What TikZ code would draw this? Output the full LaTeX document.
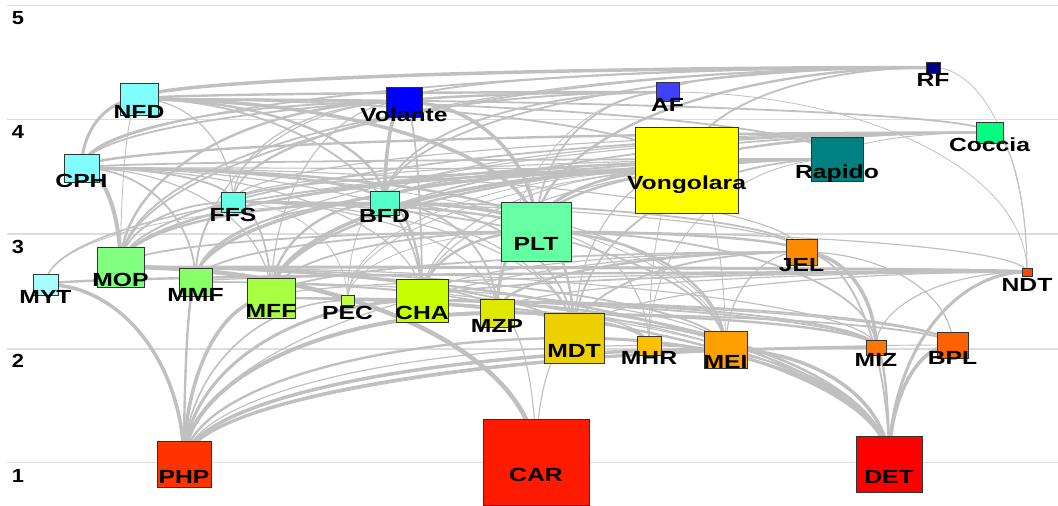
\documentclass[tikz,border=0pt]{standalone}
\usepackage{fontspec}
\usetikzlibrary{calc}
\newfontfamily\labfont{Liberation Sans}[FakeStretch=1.3]
\newfontfamily\numfont{Liberation Sans}[FakeStretch=1.15]
\pgfdeclarelayer{bg}
\pgfsetlayers{bg,main}
\definecolor{edgegray}{HTML}{C0C0C0}
\definecolor{gridgray}{HTML}{DCDCDC}
\tikzset{
  box/.style={rectangle, draw=black!80, line width=0.8pt, inner sep=0pt},
  lab/.style={inner sep=0pt, anchor=base, font=\labfont\bfseries\fontsize{19}{19}\selectfont},
  axnum/.style={inner sep=0pt, anchor=base, font=\numfont\bfseries\fontsize{19}{19}\selectfont},
  edge/.style={draw=edgegray},
  gridline/.style={draw=gridgray, line width=1.4pt}
}
\newcommand\fwnode[6]{%
  \definecolor{c#1}{HTML}{#6}%
  \node[box, fill=c#1, minimum width=#4pt, minimum height=#5pt] (#1) at (#2,#3) {};
  \node[lab] (l#1) at ($(#1.center)+(0,19)$) {#1};}
\newcommand\fwedge[3]{%
  \coordinate (kk) at (#1.center |- #2.center);
  \draw[edge, line width=#3pt] (#1.center) .. controls ($(#1.center)!0.552!(kk)$) and ($(#2.center)!0.552!(kk)$) .. (#2.center);}
\begin{document}
\begin{tikzpicture}[x=1pt,y=-1pt]
\useasboundingbox (0,0) rectangle (1058,506);
% nodes
\fwnode{NFD}{139}{99}{38}{32}{80FFFF}
\fwnode{CPH}{81.5}{168}{35}{28}{80FFFF}
\fwnode{FFS}{233}{202}{24}{20}{66FFE6}
\fwnode{Volante}{404}{102}{36}{30}{0000FF}
\fwnode{AF}{667.5}{92}{23}{19}{4040FF}
\fwnode{RF}{933}{67.5}{14}{11}{000080}
\fwnode{Coccia}{989.5}{132.5}{27}{21}{00FF80}
\fwnode{BFD}{384.5}{203}{29}{24}{55FFC8}
\fwnode{PLT}{536}{231.5}{70}{59}{66FFA3}
\fwnode{MOP}{120.5}{267}{47}{40}{80FF80}
\fwnode{MYT}{45.5}{284.5}{25}{21}{A6FFFF}
\fwnode{MMF}{195.5}{282}{33}{28}{88FF66}
\fwnode{MFF}{271}{298}{48}{40}{A6FF40}
\fwnode{PEC}{347.5}{300.5}{13}{10}{C0FF40}
\fwnode{CHA}{422}{300.5}{52}{43}{C8FF00}
\fwnode{MZP}{497}{313}{34}{28}{E0E800}
\fwnode{MDT}{574}{338}{60}{50}{EED000}
\fwnode{MHR}{649}{345.5}{24}{19}{FFC000}
\fwnode{MEI}{725.5}{349.5}{43}{37}{FFA000}
\fwnode{JEL}{801.5}{252}{31}{26}{FF8C00}
\fwnode{MIZ}{876}{347.5}{20}{15}{FF7700}
\fwnode{BPL}{952.5}{345}{31}{26}{FF6000}
\fwnode{NDT}{1027}{272}{10}{8}{FF4500}
\fwnode{Vongolara}{686.5}{170}{103}{86}{FFFF00}
\fwnode{Rapido}{837}{159}{52}{44}{008080}
\fwnode{PHP}{184}{464}{54}{46}{FF3300}
\fwnode{CAR}{536}{462}{106}{86}{FF1A00}
\fwnode{DET}{889}{464}{66}{56}{FF0000}
% axis numbers
\node[axnum] (n5) at (18,24) {5};
\node[axnum] (n4) at (18,138.5) {4};
\node[axnum] (n3) at (18,253) {3};
\node[axnum] (n2) at (18,367.5) {2};
\node[axnum] (n1) at (18,482) {1};
\begin{pgfonlayer}{bg}
\foreach \yy in {5.5,119.5,234,349,462.7} {\draw[gridline] (7,\yy) -- (1058,\yy);}
\foreach \a/\b/\w in {
 PHP/MYT/3.5, PHP/MMF/2.4, PHP/MFF/3.5, PHP/PEC/1.6, PHP/CHA/3, PHP/MZP/4, PHP/MDT/2.4,
 PHP/MHR/1.2, PHP/MEI/3.5, PHP/MIZ/3, PHP/BPL/0.9, PHP/JEL/1.2,
 CAR/MOP/4.5, CAR/MZP/1.1, CAR/MDT/1.1,
 DET/MEI/3.5, DET/MHR/1.8, DET/MDT/3, DET/MZP/1.8, DET/CHA/2.4, DET/MFF/2.4, DET/MMF/1.2,
 DET/MOP/2.4, DET/PEC/1.1, DET/MIZ/2.4, DET/BPL/3.5, DET/NDT/3, DET/JEL/1.8,
 MEI/PLT/2.4, MEI/BFD/1.2, MEI/FFS/1.8, MEI/CPH/0.9, MEI/Vongolara/0.9, MEI/JEL/1.2, MEI/MOP/1.8, MEI/MMF/1.2,
 MHR/PLT/1.2, MHR/Rapido/0.9, MHR/Vongolara/0.9, MHR/MZP/1.8, MHR/CHA/1.2, MHR/MFF/1.2,
 MIZ/JEL/3.5, MIZ/MZP/2.4, MIZ/CHA/1.8, MIZ/MFF/1.8, MIZ/MOP/1.2, MIZ/PLT/1.8, MIZ/NDT/1.2,
 BPL/MZP/1.8, BPL/CHA/1.8, BPL/MFF/1.2, BPL/PEC/0.9, BPL/JEL/1.2,
 MDT/PLT/2.4, MDT/BFD/1.8, MDT/FFS/1.2, MDT/Vongolara/1.2, MDT/Rapido/1.8, MDT/CPH/1.2,
 MDT/MOP/1.8, MDT/JEL/1.8, MDT/NDT/1.2, MDT/MMF/1.2,
 MZP/PLT/3, MZP/JEL/2.4, MZP/BFD/1.8, MZP/FFS/1.2, MZP/MOP/1.8, MZP/MMF/1.2, MZP/NDT/1.2, MZP/AF/0.8,
 CHA/PLT/2.4, CHA/BFD/2.4, CHA/Volante/1.8, CHA/CPH/1.2, CHA/NFD/1.8, CHA/Vongolara/1.2,
 CHA/Rapido/1.2, CHA/NDT/1.8, CHA/JEL/1.2,
 PEC/BFD/0.9, PEC/Vongolara/0.9, PEC/Rapido/0.9, PEC/FFS/0.8, PEC/PLT/0.8,
 MFF/BFD/2.4, MFF/FFS/1.8, MFF/PLT/1.8, MFF/Vongolara/3.5, MFF/Rapido/2.4, MFF/Coccia/1.8,
 MFF/CPH/1.2, MFF/Volante/1.2, MFF/NDT/1.2, MFF/JEL/1.8,
 MYT/BFD/0.8, MYT/NDT/2.4, MYT/Vongolara/1.2, MYT/Rapido/1.2,
 MMF/CPH/1.8, MMF/FFS/1.8, MMF/BFD/1.8, MMF/PLT/1.8, MMF/Volante/1.2, MMF/Rapido/1.8,
 MMF/Coccia/1.2, MMF/Vongolara/1.8, MMF/NDT/1.2,
 MOP/CPH/4, MOP/NFD/0.9, MOP/FFS/1.8, MOP/BFD/2.4, MOP/PLT/1.8, MOP/Volante/2.4, MOP/AF/1.8,
 MOP/RF/1.8, MOP/Vongolara/2.4, MOP/Rapido/1.8, MOP/Coccia/1.8,
 NDT/RF/0.8, NDT/AF/0.8, NDT/Coccia/0.8, NDT/PLT/1.2, NDT/MOP/3,
 JEL/PLT/2.4, JEL/BFD/1.8, JEL/CPH/1.2, JEL/FFS/1.2,
 PLT/BFD/3, PLT/FFS/2.4, PLT/CPH/2.4, PLT/NFD/3.5, PLT/Volante/3.5, PLT/AF/1.8, PLT/RF/2.4,
 PLT/Vongolara/2.4, PLT/Rapido/2.4, PLT/Coccia/1.8,
 BFD/FFS/1.2, BFD/CPH/2.4, BFD/NFD/2.4, BFD/Volante/3.5, BFD/AF/1.8, BFD/RF/1.8,
 BFD/Vongolara/1.8, BFD/Rapido/1.8, BFD/Coccia/1.2,
 FFS/CPH/1.8, FFS/NFD/1.2, FFS/Volante/1.2, FFS/AF/1.2, FFS/RF/1.2, FFS/Vongolara/1.8,
 FFS/Rapido/1.2, FFS/Coccia/1.2,
 Vongolara/CPH/1.2, Vongolara/NFD/1.8, Vongolara/Coccia/1.8, Vongolara/RF/1.8,
 CPH/NFD/3, CPH/Volante/1.8, CPH/AF/1.8, CPH/RF/1.8, CPH/Coccia/2.4, CPH/Rapido/1.8,
 Rapido/Coccia/0.9, Rapido/NFD/1.8,
 Coccia/NFD/1.8, Volante/AF/1.2, Volante/RF/1.8, Volante/NFD/1.2, NFD/AF/2.4, NFD/RF/3.5, AF/RF/1.8
} {\fwedge{\a}{\b}{\w}}
\end{pgfonlayer}
\end{tikzpicture}
\end{document}
